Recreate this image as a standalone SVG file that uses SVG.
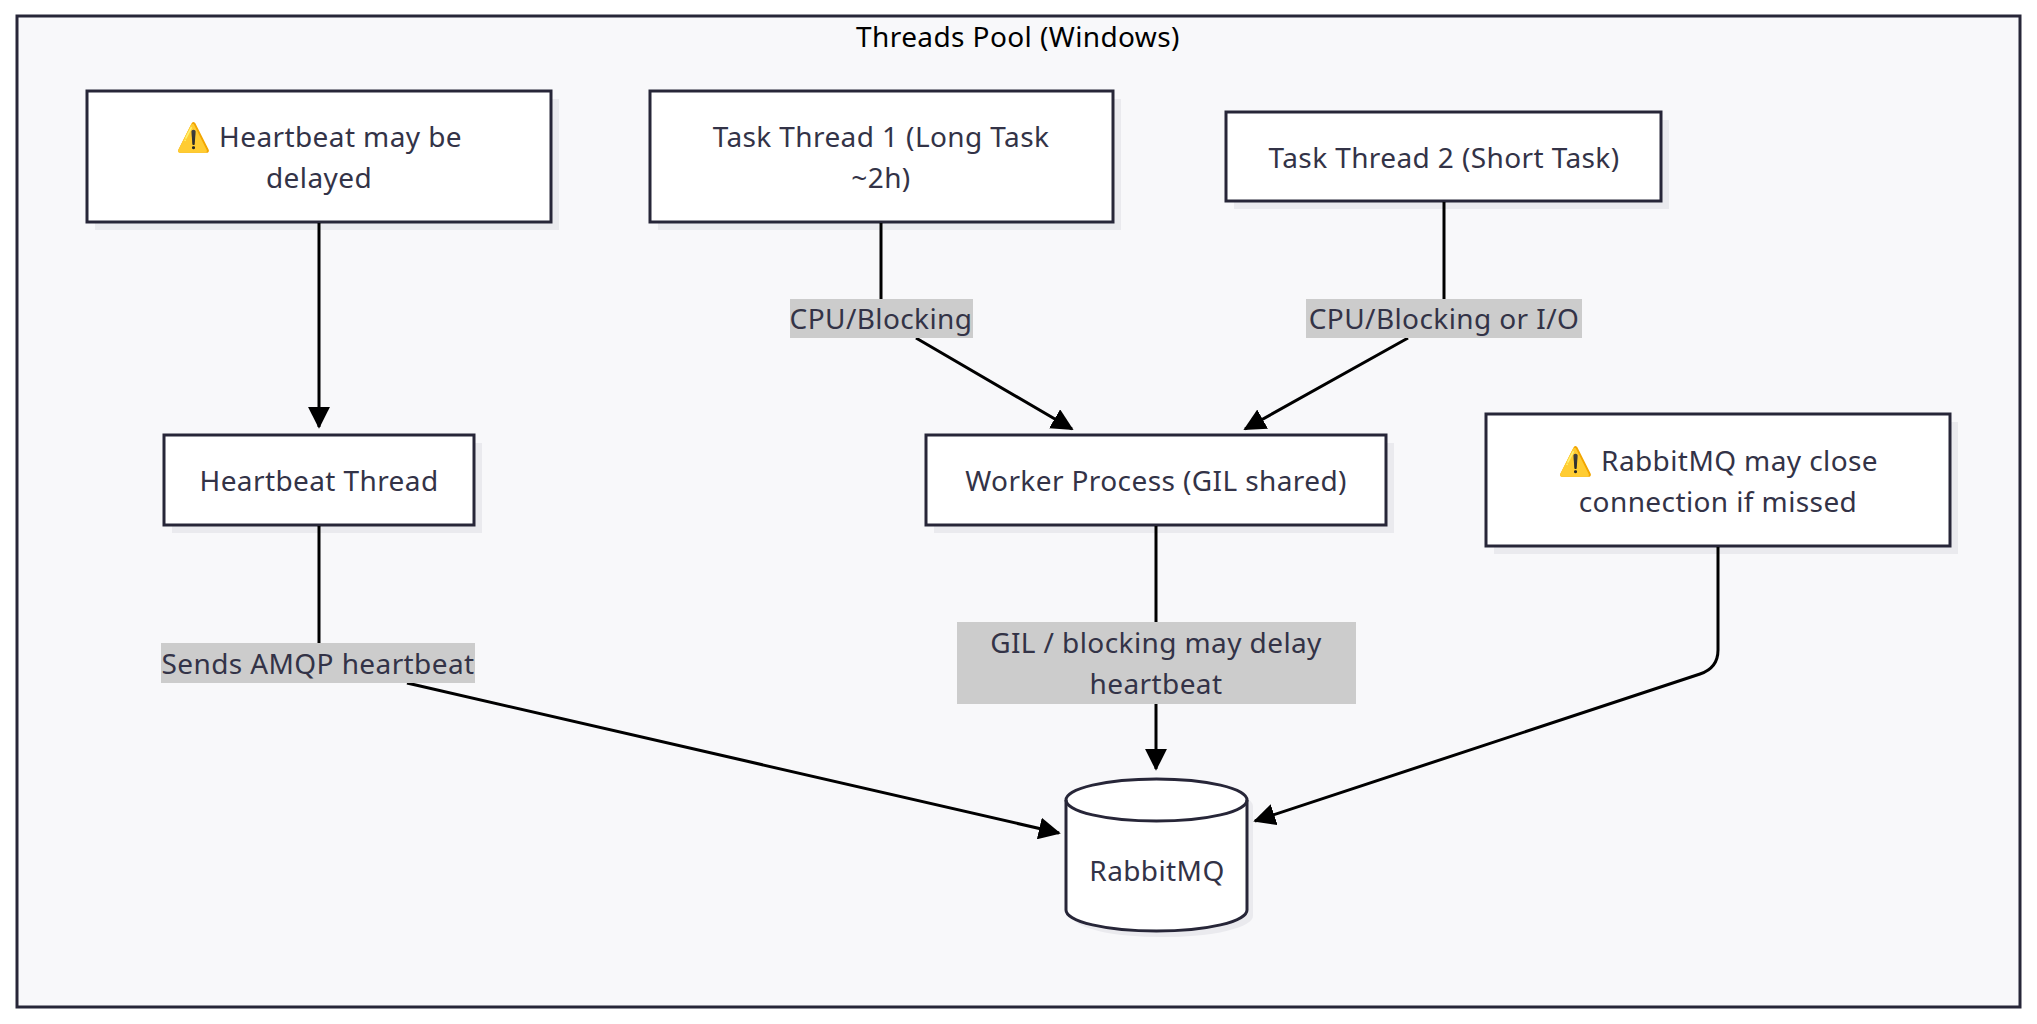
<svg xmlns="http://www.w3.org/2000/svg" width="2037" height="1024" viewBox="0 0 2037 1024">
<defs>
<marker id="a" viewBox="0 0 12 12" refX="11" refY="6" markerWidth="22" markerHeight="22" markerUnits="userSpaceOnUse" orient="auto"><path d="M0,0L12,6L0,12z" fill="#000"/></marker>
</defs>
<style>
text{font-family:"Noto Sans","DejaVu Sans",sans-serif;font-size:28px;fill:#333347;text-anchor:middle;dominant-baseline:central;letter-spacing:0.4px}
.box{fill:#fff;stroke:#272638;stroke-width:3}
.sh{fill:#eaeaee}
.lbl{fill:#cccccc}
.e{fill:none;stroke:#000;stroke-width:3}
</style>
<rect width="2037" height="1024" fill="#fff"/>
<rect x="17" y="16" width="2003" height="991" fill="#f8f8fa" stroke="#272638" stroke-width="3"/>
<text x="1018" y="36" style="fill:#000">Threads Pool (Windows)</text>
<g id="n1"><rect class="sh" x="95" y="99" width="464" height="131"/><rect class="box" x="87" y="91" width="464" height="131"/><text x="319" y="136">⚠️ Heartbeat may be</text><text x="319" y="177">delayed</text></g>
<g id="n2"><rect class="sh" x="658" y="99" width="463" height="131"/><rect class="box" x="650" y="91" width="463" height="131"/><text x="881" y="136">Task Thread 1 (Long Task</text><text x="881" y="177">~2h)</text></g>
<g id="n3"><rect class="sh" x="1234" y="120" width="435" height="89"/><rect class="box" x="1226" y="112" width="435" height="89"/><text x="1444" y="157">Task Thread 2 (Short Task)</text></g>
<g id="n4"><rect class="sh" x="172" y="443" width="310" height="90"/><rect class="box" x="164" y="435" width="310" height="90"/><text x="319" y="480">Heartbeat Thread</text></g>
<g id="n5"><rect class="sh" x="934" y="443" width="460" height="90"/><rect class="box" x="926" y="435" width="460" height="90"/><text x="1156" y="480">Worker Process (GIL shared)</text></g>
<g id="n6"><rect class="sh" x="1494" y="422" width="464" height="132"/><rect class="box" x="1486" y="414" width="464" height="132"/><text x="1718" y="460">⚠️ RabbitMQ may close</text><text x="1718" y="501">connection if missed</text></g>
<g id="n7">
<path class="sh" d="M1072,806a90,21 0 0,1 181,0v110a90,21 0 0,1 -181,0z"/>
<path class="box" d="M1066,800a90.5,21 0 0,1 181,0v110a90.5,21 0 0,1 -181,0z"/>
<path class="box" style="fill:none" d="M1066,800a90.5,21 0 0,0 181,0"/>
<text x="1157" y="870">RabbitMQ</text>
</g>
<g id="connectors">
<path class="e" d="M319,223V427" marker-end="url(#a)"/>
<path class="e" d="M881,223V299M916,338L1072,429" marker-end="url(#a)"/>
<path class="e" d="M1444,202V299M1408,338L1245,429" marker-end="url(#a)"/>
<path class="e" d="M319,526V643M407,683L1059,833" marker-end="url(#a)"/>
<path class="e" d="M1156,526V622M1156,704V769" marker-end="url(#a)"/>
<path class="e" d="M1718,547V650Q1718,668 1700,674L1255,821" marker-end="url(#a)"/>
<rect class="lbl" x="790" y="299" width="183" height="39"/><text x="881" y="318">CPU/Blocking</text>
<rect class="lbl" x="1306" y="299" width="276" height="39"/><text x="1444" y="318">CPU/Blocking or I/O</text>
<rect class="lbl" x="161" y="643" width="314" height="40"/><text x="318" y="663">Sends AMQP heartbeat</text>
<rect class="lbl" x="957" y="622" width="399" height="82"/><text x="1156" y="642">GIL / blocking may delay</text><text x="1156" y="683">heartbeat</text>
</g>
</svg>
